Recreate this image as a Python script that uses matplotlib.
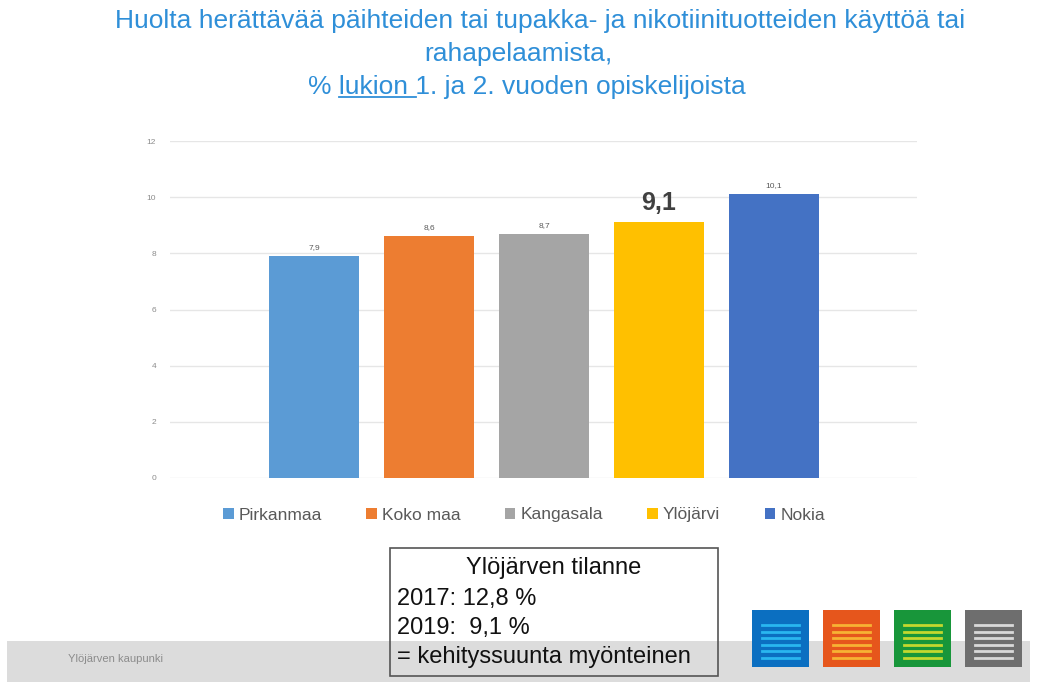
import matplotlib.pyplot as plt
from matplotlib.patches import Rectangle
from matplotlib.lines import Line2D

# data
alueet = ['Pirkanmaa', 'Koko maa', 'Kangasala', 'Ylöjärvi', 'Nokia']
arvot = [7.9, 8.6, 8.7, 9.1, 10.1]
varit = ['#5b9bd5', '#ed7d31', '#a5a5a5', '#ffc000', '#4472c4']
yticks = [0, 2, 4, 6, 8, 10, 12]

plt.rcParams['font.family'] = ['Liberation Sans', 'DejaVu Sans']

fig = plt.figure(figsize=(10.37, 6.82), dpi=100)
W, H = 1037, 682

def fx(px):
    return px / W

def fy(py):
    return 1 - py / H

# footer band
fig.patches.append(Rectangle((fx(7), 0), fx(1030) - fx(7), fy(641), transform=fig.transFigure,
                             facecolor='#dcdcdc', edgecolor='none', zorder=0))
fig.text(fx(68), fy(659), 'Ylöjärven kaupunki', fontsize=8, color='#8c8c8c', va='center')

# title
blue = '#2f8fd8'
tfs = 19
fig.text(fx(540), fy(21), 'Huolta herättävää päihteiden tai tupakka- ja nikotiinituotteiden käyttöä tai',
         ha='center', va='center', fontsize=tfs, color=blue)
fig.text(fx(518), fy(54), 'rahapelaamista,', ha='center', va='center', fontsize=tfs, color=blue)
line3 = fig.text(fx(527), fy(87), '% lukion 1. ja 2. vuoden opiskelijoista',
                 ha='center', va='center', fontsize=tfs, color=blue)

ax = fig.add_axes([fx(170), fy(478), fx(917) - fx(170), fy(141) - fy(478)])
x = list(range(len(alueet)))
bars = ax.bar(x, arvot, width=0.78, color=varit, zorder=3)
ax.set_xlim(-1.252, 5.243)
ax.set_ylim(0, 12)
ax.set_yticks(yticks)
ax.set_yticklabels([str(v) for v in yticks], fontsize=6, color='#8c8c8c')
ax.set_xticks([])
ax.tick_params(axis='y', length=0, pad=10)
for s in ax.spines.values():
    s.set_visible(False)
ax.grid(axis='y', color='#e6e6e6', linewidth=1, zorder=0)

for i, v in enumerate(arvot):
    lab = str(v).replace('.', ',')
    if alueet[i] == 'Ylöjärvi':
        ax.text(i, v + 0.25, lab, ha='center', va='bottom', fontsize=18, fontweight='bold', color='#404040')
    else:
        ax.text(i, v + 0.18, lab, ha='center', va='bottom', fontsize=6, color='#595959')

leg = fig.legend(bars, alueet, loc='center', bbox_to_anchor=(fx(524), fy(515)), ncol=5,
                 frameon=False, fontsize=12.5, handlelength=0.6, handleheight=0.6,
                 handletextpad=0.3, columnspacing=2.55)
for t in leg.get_texts():
    t.set_color('#595959')

# underline "lukion"
fig.canvas.draw()
r = fig.canvas.get_renderer()
bb = line3.get_window_extent(r)
tmp = fig.text(0, 0, '% ', fontsize=tfs)
w1 = tmp.get_window_extent(r).width
tmp.set_text('% lukion ')
w2 = tmp.get_window_extent(r).width
tmp.remove()
fig.lines.append(Line2D([(bb.x0 + w1) / W, (bb.x0 + w2) / W], [bb.y0 / H + 0.003] * 2,
                        transform=fig.transFigure, color=blue, linewidth=1.3))

# info box
fig.patches.append(Rectangle((fx(390), fy(676)), fx(718) - fx(390), fy(548) - fy(676),
                             transform=fig.transFigure, facecolor='none', edgecolor='#555555',
                             linewidth=1.2, zorder=5))
bfs = 17
fig.text(fx(554), fy(568), 'Ylöjärven tilanne', ha='center', va='center', fontsize=bfs, color='#111111')
fig.text(fx(397), fy(599), '2017: 12,8 %', ha='left', va='center', fontsize=bfs, color='#111111')
fig.text(fx(397), fy(628), '2019:  9,1 %', ha='left', va='center', fontsize=bfs, color='#111111')
fig.text(fx(397), fy(657), '= kehityssuunta myönteinen', ha='left', va='center', fontsize=bfs, color='#111111')

# logos
logos = [(752, '#0b6fc1', '#29b6f0'), (823, '#e6561c', '#f7b233'),
         (894, '#18963a', '#c4d82e'), (965, '#6e6e6e', '#d9d9d9')]
for x0, c, c2 in logos:
    fig.patches.append(Rectangle((fx(x0), fy(667)), fx(57), fy(610) - fy(667),
                                 transform=fig.transFigure, facecolor=c, edgecolor='none', zorder=6))
    for k in range(6):
        yy = 625 + k * 6.5
        fig.lines.append(Line2D([fx(x0 + 10), fx(x0 + 47)], [fy(yy)] * 2, transform=fig.transFigure,
                                color=c2, linewidth=2, zorder=7))

fig.savefig('out.png', dpi=100)
